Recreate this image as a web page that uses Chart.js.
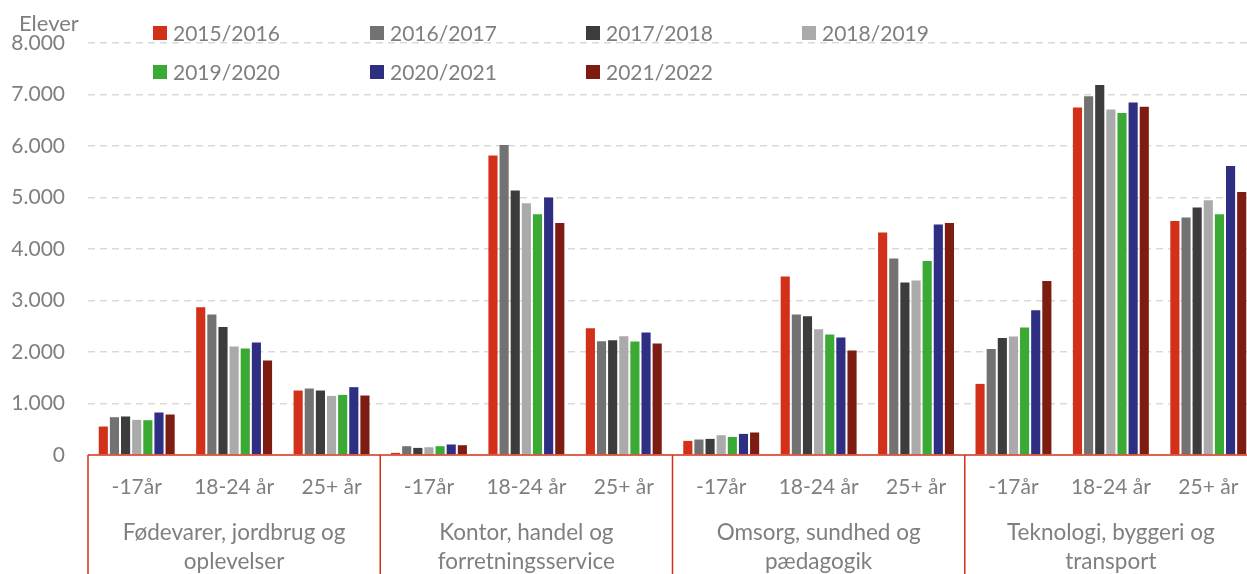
<!DOCTYPE html>
<html>
<head>
<meta charset="utf-8">
<script src="https://cdn.jsdelivr.net/npm/chart.js@4/dist/chart.umd.min.js"></script>
<style>
  html, body { margin: 0; padding: 0; background: #fff; overflow: hidden; }
  #wrap { width: 1247px; height: 574px; overflow: hidden; position: relative; }
  #box { width: 1260px; height: 574px; }
</style>
</head>
<body>
<div id="wrap"><div id="box"><canvas id="c"></canvas></div></div>
<script>
// kategorier
const groups = [
  ['Fødevarer, jordbrug og', 'oplevelser'],
  ['Kontor, handel og', 'forretningsservice'],
  ['Omsorg, sundhed og', 'pædagogik'],
  ['Teknologi, byggeri og', 'transport']
];
const ages = ['-17år', '18-24 år', '25+ år'];
const seasons = ['2015/2016', '2016/2017', '2017/2018', '2018/2019', '2019/2020', '2020/2021', '2021/2022'];
const yTicks = [0, 1000, 2000, 3000, 4000, 5000, 6000, 7000, 8000];

// elever pr. skoleår (F -17, F 18-24, F 25+, K..., O..., T...)
const s2015 = [553, 2870, 1252, 41, 5816, 2462, 274, 3466, 4320, 1381, 6748, 4546];
const s2016 = [734, 2728, 1291, 171, 6021, 2210, 301, 2728, 3816, 2060, 6967, 4612];
const s2017 = [748, 2487, 1252, 138, 5136, 2229, 313, 2695, 3350, 2274, 7186, 4806];
const s2018 = [682, 2107, 1148, 151, 4889, 2307, 384, 2443, 3388, 2301, 6709, 4948];
const s2019 = [676, 2068, 1167, 171, 4676, 2204, 351, 2340, 3769, 2476, 6643, 4676];
const s2020 = [825, 2184, 1317, 204, 5000, 2379, 410, 2282, 4476, 2812, 6845, 5613];
const s2021 = [786, 1835, 1155, 190, 4507, 2165, 437, 2029, 4507, 3381, 6760, 5109];

const seriesValues = [s2015, s2016, s2017, s2018, s2019, s2020, s2021];
const colors = ['#d3301a', '#727272', '#3c3c3c', '#aaaaaa', '#3aaa35', '#2e2e82', '#7d1c10'];
const textColor = '#7f7f7f';
const red = '#d3301a';
const font = 'Lato';

const labels = [];
groups.forEach(() => ages.forEach(a => labels.push(a)));

function fmt(v) {
  return String(v).replace(/\B(?=(\d{3})+(?!\d))/g, '.');
}

// tegner legend, titel, gruppelabels og røde linjer
const decor = {
  id: 'decor',
  afterDraw(chart) {
    const ctx = chart.ctx;
    const area = chart.chartArea;
    const x = chart.scales.x;
    ctx.save();
    // titel
    ctx.fillStyle = textColor;
    ctx.font = '22px ' + font;
    ctx.textAlign = 'left';
    ctx.textBaseline = 'middle';
    ctx.fillText('Elever', 19, 24);

    // legend
    const cols = [153, 370, 586, 802];
    const rows = [33, 72];
    ctx.font = '21px ' + font;
    chart.data.datasets.forEach((ds, i) => {
      const cx = cols[i % 4];
      const cy = rows[Math.floor(i / 4)];
      ctx.fillStyle = ds.backgroundColor;
      ctx.fillRect(cx, cy - 7, 14, 14);
      ctx.fillStyle = textColor;
      ctx.fillText(ds.label, cx + 20, cy + 1);
    });

    // røde linjer
    ctx.strokeStyle = red;
    ctx.lineWidth = 1.5;
    ctx.beginPath();
    ctx.moveTo(area.left, area.bottom);
    ctx.lineTo(area.right, area.bottom);
    const step = (x.getPixelForValue(1) - x.getPixelForValue(0)) * 3;
    for (let g = 0; g <= groups.length; g++) {
      const gx = x.getPixelForValue(0) - step / 6 + g * step;
      ctx.moveTo(gx, area.bottom);
      ctx.lineTo(gx, chart.height);
    }
    ctx.stroke();

    // gruppelabels
    ctx.fillStyle = textColor;
    ctx.font = '22.5px ' + font;
    ctx.textAlign = 'center';
    groups.forEach((lines, g) => {
      const gx = x.getPixelForValue(g * 3 + 1);
      lines.forEach((t, j) => ctx.fillText(t, gx, 533 + j * 29));
    });
    ctx.restore();
  }
};

new Chart(document.getElementById('c'), {
  type: 'bar',
  data: {
    labels: labels,
    datasets: seasons.map((s, i) => ({
      label: s,
      data: seriesValues[i],
      backgroundColor: colors[i],
      borderWidth: 0,
      categoryPercentage: 0.8,
      barPercentage: 0.82
    }))
  },
  options: {
    responsive: true,
    maintainAspectRatio: false,
    animation: false,
    layout: { padding: { top: 43, right: 3, left: 0, bottom: 0 } },
    plugins: {
      legend: { display: false },
      tooltip: { enabled: false }
    },
    scales: {
      x: {
        grid: { display: false },
        border: { display: false },
        ticks: {
          color: textColor,
          font: { family: font, size: 21 },
          padding: 12,
          maxRotation: 0,
          autoSkip: false
        },
        afterFit(scale) { scale.height = 119; }
      },
      y: {
        min: 0,
        max: 8000,
        afterBuildTicks(scale) { scale.ticks = yTicks.map(v => ({ value: v })); },
        grid: {
          color: ctx => ctx.tick && ctx.tick.value === 0 ? 'rgba(0,0,0,0)' : '#d9d9d9',
          lineWidth: 1.5,
          drawTicks: false
        },
        border: { display: false, dash: [7, 5] },
        ticks: {
          color: textColor,
          font: { family: font, size: 21 },
          padding: 23,
          callback: v => fmt(v)
        },
        afterFit(scale) { scale.width = 88; }
      }
    }
  },
  plugins: [decor]
});
</script>
</body>
</html>
